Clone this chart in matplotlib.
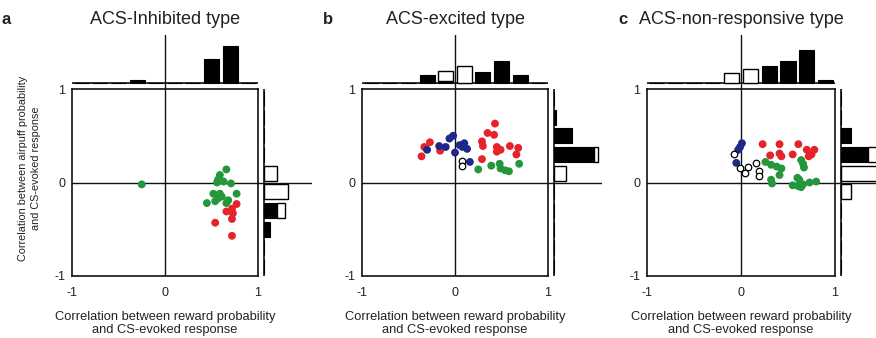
import matplotlib
matplotlib.use("Agg")
import matplotlib.pyplot as plt
import numpy as np

plt.rcParams['font.family'] = ['Liberation Sans', 'DejaVu Sans']

W, H = 876, 338

titles = ["ACS-Inhibited type", "ACS-excited type", "ACS-non-responsive type"]
panel_letters = ["a", "b", "c"]
xlabel_text = "Correlation between reward probability\nand CS-evoked response"
ylabel_text = "Correlation between airpuff probability\nand CS-evoked response"
tick_vals = [-1, 0, 1]
tick_labels = ["-1", "0", "1"]

bin_centers = [-0.9, -0.7, -0.5, -0.3, -0.1, 0.1, 0.3, 0.5, 0.7, 0.9]

# Histogram heights (black = significant, white = non-significant, stacked)
top_black = [
    [0, 0, 0, 1.1, 0, 0, 0, 8.0, 12.2, 0],
    [0, 0, 0, 2.8, 0.7, 0, 3.6, 7.4, 2.8, 0],
    [0, 0, 0, 0, 0, 0, 5.6, 7.2, 11.1, 0.9],
]
top_white = [
    [0, 0, 0, 0, 0, 0, 0, 0, 0, 0],
    [0, 0, 0, 0, 3.4, 5.6, 0, 0, 0, 0],
    [0, 0, 0, 0, 3.3, 4.7, 0, 0, 0, 0],
]
right_black = [
    [0, 0, 2.0, 4.4, 0, 0, 0, 0, 0, 0],
    [0, 0, 0, 0, 0, 0, 13.3, 6.0, 0.7, 0],
    [0, 0, 0, 0, 0, 0, 9.1, 3.3, 0, 0],
]
right_white = [
    [0, 0, 0, 2.6, 8.1, 4.4, 0, 0, 0, 0],
    [0, 0, 0, 0, 0, 4.0, 1.4, 0, 0, 0],
    [0, 0, 0, 0, 3.3, 14.0, 3.0, 0, 0, 0],
]

# Panel a scatter
a_green_x = [0.66, 0.59, 0.57, 0.63, 0.71, 0.56, 0.52, 0.59, 0.61, 0.68, 0.77, 0.45, 0.54, 0.66, 0.57, -0.25]
a_green_y = [0.14, 0.08, 0.03, 0.01, -0.01, 0.0, -0.12, -0.12, -0.15, -0.19, -0.12, -0.22, -0.20, -0.22, -0.17, -0.02]
a_red_x = [0.77, 0.72, 0.66, 0.73, 0.72, 0.54, 0.72]
a_red_y = [-0.23, -0.28, -0.31, -0.33, -0.39, -0.43, -0.57]

# Panel b scatter
b_red_x = [-0.36, -0.33, -0.27, -0.16, 0.43, 0.35, 0.42, 0.29, 0.30, 0.45, 0.49, 0.45, 0.59, 0.68, 0.66, 0.29]
b_red_y = [0.28, 0.38, 0.43, 0.34, 0.63, 0.53, 0.51, 0.44, 0.39, 0.38, 0.35, 0.33, 0.39, 0.37, 0.30, 0.25]
b_blue_x = [-0.30, -0.17, -0.10, -0.06, -0.02, 0.0, 0.05, 0.08, 0.10, 0.13, 0.16]
b_blue_y = [0.35, 0.39, 0.38, 0.47, 0.50, 0.32, 0.40, 0.38, 0.42, 0.36, 0.22]
b_green_x = [0.25, 0.39, 0.48, 0.49, 0.54, 0.58, 0.69]
b_green_y = [0.14, 0.18, 0.20, 0.15, 0.13, 0.12, 0.20]
b_open_x = [0.08, 0.07]
b_open_y = [0.23, 0.18]

# Panel c scatter
c_blue_x = [0.01, -0.01, -0.03, -0.05]
c_blue_y = [0.42, 0.38, 0.35, 0.21]
c_open_x = [-0.07, -0.01, 0.04, 0.07, 0.16, 0.19, 0.19]
c_open_y = [0.30, 0.15, 0.10, 0.17, 0.21, 0.12, 0.07]
c_red_x = [0.23, 0.41, 0.61, 0.31, 0.41, 0.43, 0.55, 0.70, 0.78, 0.72, 0.75]
c_red_y = [0.41, 0.41, 0.41, 0.29, 0.31, 0.28, 0.30, 0.35, 0.35, 0.28, 0.30]
c_green_x = [0.26, 0.32, 0.38, 0.43, 0.41, 0.32, 0.33, 0.64, 0.66, 0.67, 0.60, 0.62, 0.55, 0.61, 0.64, 0.73, 0.80, 0.66]
c_green_y = [0.22, 0.19, 0.17, 0.15, 0.08, 0.03, -0.01, 0.24, 0.20, 0.16, 0.05, 0.03, -0.03, -0.04, -0.05, 0.0, 0.01, -0.02]

GREEN = "#24963c"
RED = "#e5232b"
BLUE = "#1d2888"
TXT = "#222222"

panels_scatter = [
    [(a_green_x, a_green_y, GREEN, 'fill'), (a_red_x, a_red_y, RED, 'fill')],
    [(b_red_x, b_red_y, RED, 'fill'), (b_blue_x, b_blue_y, BLUE, 'fill'),
     (b_green_x, b_green_y, GREEN, 'fill'), (b_open_x, b_open_y, 'k', 'open')],
    [(c_red_x, c_red_y, RED, 'fill'), (c_green_x, c_green_y, GREEN, 'fill'),
     (c_blue_x, c_blue_y, BLUE, 'fill'), (c_open_x, c_open_y, 'k', 'open')],
]

box_px = [(72, 89, 258, 276), (362, 89, 548, 276), (647, 89, 835, 276)]


def rect(l, t, r, b):
    return [l / W, 1 - b / H, (r - l) / W, (b - t) / H]


fig = plt.figure(figsize=(W / 100, H / 100), dpi=100)

for i in range(3):
    l, t, r, b = box_px[i]
    ax = fig.add_axes(rect(l, t, r, b))
    ax.set_xlim(-1, 1)
    ax.set_ylim(-1, 1)
    ax.axhline(0, color='#111', lw=1.0, zorder=1)
    ax.axvline(0, color='#111', lw=1.0, zorder=1)
    for xs, ys, col, kind in panels_scatter[i]:
        if kind == 'fill':
            ax.scatter(xs, ys, s=32, color=col, edgecolors='none', zorder=3)
        else:
            ax.scatter(xs, ys, s=22, facecolors='white', edgecolors='k', linewidths=0.9, zorder=3)
    for sp in ax.spines.values():
        sp.set_linewidth(1.2)
        sp.set_color('#111')
    ax.set_xticks(tick_vals)
    ax.set_xticklabels(tick_labels)
    ax.set_yticks(tick_vals)
    ax.set_yticklabels(tick_labels)
    ax.tick_params(length=0, labelsize=9, colors=TXT)
    ax.tick_params(axis='x', pad=8)
    ax.tick_params(axis='y', pad=5)
    ax.set_xlabel(xlabel_text, fontsize=9.3, color=TXT, labelpad=8.5, linespacing=1.1)

    # top histogram
    axt = fig.add_axes(rect(l, 35, r, t))
    axt.set_xlim(-1, 1)
    axt.set_ylim(-2, (t - 35) / 3 - 2)
    axt.axis('off')
    axt.axhline(0, color='#111', lw=1.2)
    axt.axvline(0, color='#111', lw=1.0)
    axt.bar(bin_centers, top_black[i], width=0.16, color='black', edgecolor='black', lw=0.8, zorder=3)
    wt = np.array(top_white[i])
    axt.bar(np.array(bin_centers)[wt > 0], wt[wt > 0], width=0.16,
            bottom=np.array(top_black[i])[wt > 0], color='white', edgecolor='black', lw=1.0, zorder=3)

    # right histogram
    axr = fig.add_axes(rect(r, t, r + 54, b))
    axr.set_ylim(-1, 1)
    axr.set_xlim(-2, 54 / 3 - 2)
    axr.axis('off')
    axr.axvline(0, color='#111', lw=1.2)
    axr.axhline(0, color='#111', lw=1.0)
    axr.barh(bin_centers, right_black[i], height=0.16, color='black', edgecolor='black', lw=0.8, zorder=3)
    wr = np.array(right_white[i])
    axr.barh(np.array(bin_centers)[wr > 0], wr[wr > 0], height=0.16,
             left=np.array(right_black[i])[wr > 0], color='white', edgecolor='black', lw=1.0, zorder=3)

    # title
    cx = (l + r) / 2
    fig.text(cx / W, 1 - 20 / H, titles[i], ha='center', va='center', fontsize=13, color=TXT)

fig.text(6 / W, 1 - 20 / H, panel_letters[0], ha='center', va='center', fontsize=12, fontweight='bold', color=TXT)
fig.text(328 / W, 1 - 20 / H, panel_letters[1], ha='center', va='center', fontsize=12, fontweight='bold', color=TXT)
fig.text(623 / W, 1 - 20 / H, panel_letters[2], ha='center', va='center', fontsize=12, fontweight='bold', color=TXT)

fig.text(29.5 / W, 1 - 168 / H, ylabel_text, rotation=90, ha='center', va='center',
         fontsize=7.8, color=TXT, multialignment='center', linespacing=1.3)

fig.savefig("out.png", dpi=100)
